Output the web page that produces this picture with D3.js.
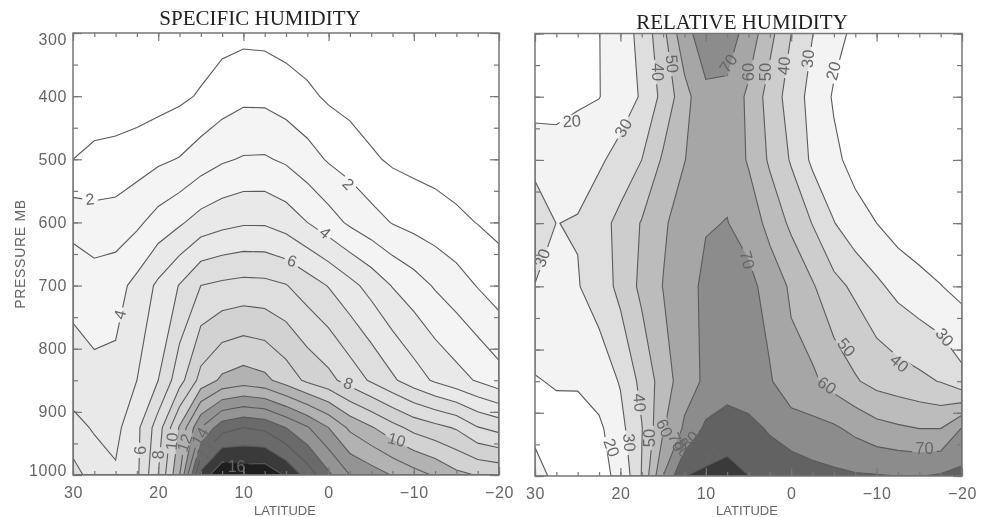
<!DOCTYPE html>
<html lang="en">
<head>
<meta charset="utf-8">
<title>Humidity sections</title>
<script src="https://cdn.jsdelivr.net/npm/d3@7"></script>
<style>
  html, body { margin: 0; background: #fff; }
  svg { display: block; filter: blur(0.4px); }
  .tick text, .axis-title { font-family: "Liberation Sans", sans-serif; fill: #666; }
  .tick line { stroke: #777; stroke-width: 1.2; }
  .title { font-family: "Liberation Serif", serif; fill: #222; font-size: 21px; text-anchor: middle; }
  .clabel { font-family: "Liberation Sans", sans-serif; fill: #666; text-anchor: middle; dominant-baseline: central; opacity: .99; }
</style>
</head>
<body>
<svg id="chart" width="987" height="517"></svg>
<script>
// grid of the analysis, north to south, top of the section to the surface
const lats = [30, 27.5, 25, 22.5, 20, 17.5, 15, 12.5, 10, 7.5, 5, 2.5, 0, -2.5, -5, -7.5, -10, -12.5, -15, -17.5, -20];
const pressures = [300, 400, 500, 600, 700, 850, 925, 1000];

// specific humidity (g/kg), one list per pressure level
const q300 = [.12, .15, .18, .2, .25, .3, .45, .65, .74, .7, .55, .4, .3, .25, .2, .18, .16, .14, .12, .1, .1];
const q400 = [.3, .3, .4, .45, .6, .8, 1.1, 1.5, 1.77, 1.75, 1.5, 1.2, .85, .62, .42, .35, .3, .27, .24, .22, .2];
const q500 = [1, 1.29, 1.35, 1.56, 1.82, 2.05, 2.5, 2.87, 3.08, 3.1, 2.85, 2.4, 1.9, 1.59, 1.15, .85, .7, .6, .5, .4, .33];
const q600 = [2.66, 2.37, 2.44, 2.8, 3.4, 3.86, 4.4, 4.7, 4.88, 4.88, 4.55, 4, 3.42, 2.83, 2.38, 1.95, 1.68, 1.46, 1.2, .97, .75];
const q700 = [3.69, 3.48, 3.63, 4.3, 5.2, 6.05, 7, 7.2, 7.32, 7.28, 7.05, 6.5, 5.95, 5.3, 4.65, 3.95, 3.45, 2.9, 2.45, 1.95, 1.49];
const q850 = [4.47, 4.25, 4.27, 5, 6, 7.6, 9.35, 10.2, 10.5, 10.25, 9.55, 8.8, 8.3, 7.57, 6.87, 6.16, 5.47, 4.85, 4.37, 3.9, 3.4];
const q925 = [5.32, 4.9, 4.72, 5.75, 7.5, 10.1, 13, 14.6, 15, 14.8, 14, 13.1, 12, 10.8, 10.1, 9.35, 8.7, 8.3, 7.9, 7.05, 6.67];
const q1000 = [6.38, 5.57, 5.13, 5.8, 8, 10.9, 16.3, 17.9, 17.6, 17.7, 16.9, 15.6, 14.2, 13, 12.5, 11.95, 11.4, 10.9, 10.25, 9.95, 9.8];

// relative humidity (%)
const rh300 = [14, 16, 18, 19.8, 25, 33, 47, 67.5, 74, 75, 66, 53, 40, 30.2, 23, 18, 15, 13, 12, 11, 10];
const rh400 = [15, 16, 18, 19.7, 25, 31, 43, 56, 68.5, 67.5, 58, 46, 35.5, 26.6, 19, 16, 14, 12, 11, 10, 9];
const rh500 = [27, 25, 27, 28.5, 33.5, 40, 51.5, 59.7, 66, 67, 59, 48.5, 39, 28, 22, 17, 15, 13, 12, 11, 9.5];
const rh600 = [36, 29.9, 30.5, 36, 43, 50.7, 58.5, 65, 69.2, 70.3, 66, 56.8, 48, 39.6, 30.4, 23.5, 20, 15.5, 13, 11.5, 10.5];
const rh700 = [29.7, 27, 29.5, 34, 43, 52.3, 60.3, 65, 72.8, 73.5, 73, 66, 58.5, 51, 43, 38, 32, 27, 23.5, 20.3, 17];
const rh850 = [19.3, 21, 20.8, 25, 30.7, 43, 54.5, 66, 71.5, 72.5, 73, 71, 63, 62, 56, 51, 46.7, 44.5, 42.3, 39.5, 33];
const rh925 = [18, 16, 17, 18, 27, 39.5, 59, 71.5, 82, 87.5, 83.2, 78.8, 75.5, 73, 71.5, 67.5, 63.5, 61.5, 60, 60, 70.6];
const rh1000 = [23, 18, 17, 18.5, 21.2, 40.5, 70, 89.8, 92, 91.8, 90.1, 87, 85, 83.5, 82, 81, 80.6, 80, 79.8, 81, 82.6];

const qLines = d3.range(1, 18);
const qBands = [2, 4, 6, 8, 10, 12, 14, 16, 17];
const qShades = ["#f4f4f4", "#e9e9e9", "#dedede", "#d2d2d2", "#b2b2b2", "#949494", "#6a6a6a", "#3a3a3a", "#1e1e1e"];
const rhLines = [20, 30, 40, 50, 60, 70, 80, 90];
const rhBands = [20, 30, 40, 50, 60, 70, 80, 90];
const rhShades = ["#f3f3f3", "#dedede", "#cdcdcd", "#bcbcbc", "#a6a6a6", "#8c8c8c", "#626262", "#3a3a3a"];

// contour labels: text, latitude, pressure, rotation
const qLabels = [
  ["2", 28, 563, -5], ["2", -2.3, 539, 45], ["4", .4, 616, 40], ["6", 4.3, 661, 20],
  ["4", 24.5, 746, -75], ["6", 22.1, 961, -90], ["8", 20, 968, -90], ["10", 18.4, 947, -85],
  ["12", 16.9, 949, -70], ["14", 15.1, 939, -60], ["8", -2.3, 855, 20], ["10", -8, 944, 15],
  ["14", 14.2, 963, -45], ["16", 10.8, 987, 0]
];
const rhLabels = [
  ["20", 25.7, 438, -3], ["30", 19.7, 449, -60], ["40", 15.6, 361, 90], ["50", 13.9, 348, 85],
  ["70", 7.4, 347, -55], ["60", 5.1, 361, -90], ["50", 3.1, 361, -90], ["40", .9, 351, -85],
  ["30", -1.9, 340, -85], ["20", -4.9, 359, -75], ["70", 5.1, 658, 75], ["30", 29.2, 655, -70],
  ["50", -6.5, 796, 50], ["60", -4.2, 856, 35], ["40", -12.7, 821, 40], ["30", -18, 780, 50],
  ["70", -15.6, 955, 0], ["90", 9.5, 969, -20], ["40", 17.7, 884, 85], ["30", 18.9, 947, 85],
  ["20", 21, 955, 70], ["50", 16.6, 940, -90], ["60", 14.8, 924, 65], ["70", 13.4, 946, 65],
  ["80", 11.9, 943, -45], ["80", 12.7, 956, 60]
];

const majorLat = [30, 20, 10, 0, -10, -20];
const minorLat = d3.range(30, -20.1, -2.5);
const majorP = [300, 400, 500, 600, 700, 800, 900, 1000];
const minorP = d3.range(300, 1001, 50);

const svg = d3.select("#chart");

function drawPanel(o) {
  const x = d3.scaleLinear().domain([30, -20]).range([o.left, o.right]);
  const y = d3.scaleLinear().domain([300, 1000]).range([o.top, o.bottom]);
  // contour coordinates are in grid cells, the levels are not evenly spaced
  const latAt = d3.scaleLinear().domain(d3.range(lats.length)).range(lats).clamp(true);
  const presAt = d3.scaleLinear().domain(d3.range(pressures.length)).range(pressures).clamp(true);
  const toPx = ([i, j]) => [x(latAt(i - .5)), y(presAt(j - .5))];

  const values = o.rows.flat();
  const contours = d3.contours().size([lats.length, pressures.length]);
  const path = d3.geoPath();
  const shape = level => {
    const c = contours.contour(values, level);
    return {
      type: "MultiPolygon",
      coordinates: c.coordinates.map(poly => poly.map(ring => ring.map(toPx)))
    };
  };

  const g = svg.append("g");
  const clipId = "clip-" + o.id, maskId = "gaps-" + o.id;
  const defs = g.append("defs");
  defs.append("clipPath").attr("id", clipId).append("rect")
    .attr("x", o.left).attr("y", o.top).attr("width", o.right - o.left).attr("height", o.bottom - o.top);

  const plot = g.append("g").attr("clip-path", "url(#" + clipId + ")");
  plot.append("rect")
    .attr("x", o.left).attr("y", o.top).attr("width", o.right - o.left).attr("height", o.bottom - o.top)
    .attr("fill", "#fff");
  plot.selectAll("path.band").data(o.bands).enter().append("path")
    .attr("class", "band")
    .attr("d", d => path(shape(d)))
    .attr("fill", (d, i) => o.shades[i]);

  // lines break around each label, the fill does not
  const mask = defs.append("mask").attr("id", maskId).attr("maskUnits", "userSpaceOnUse")
    .attr("x", 0).attr("y", 0).attr("width", 987).attr("height", 517);
  mask.append("rect").attr("width", 987).attr("height", 517).attr("fill", "#fff");
  mask.selectAll("rect.gap").data(o.labels).enter().append("rect")
    .attr("class", "gap")
    .attr("x", d => -d[0].length * 4.6 - 3).attr("y", -6)
    .attr("width", d => d[0].length * 9.2 + 6).attr("height", 12)
    .attr("fill", "#000")
    .attr("transform", d => "translate(" + x(d[1]) + "," + y(d[2]) + ") rotate(" + d[3] + ")");

  plot.append("g").attr("mask", "url(#" + maskId + ")")
    .selectAll("path").data(o.lines).enter().append("path")
    .attr("d", d => path(shape(d)))
    .attr("fill", "none")
    .attr("stroke", "#5a5a5a")
    .attr("stroke-width", 1.1);

  plot.selectAll("text").data(o.labels).enter().append("text")
    .attr("class", "clabel")
    .attr("font-size", o.labelSize)
    .attr("transform", d => "translate(" + x(d[1]) + "," + y(d[2]) + ") rotate(" + d[3] + ")")
    .text(d => d[0]);

  // ticks point inward on all four sides
  const ax = (sel, axis) => sel.call(axis).call(s => s.select(".domain").remove());
  const bottom = () => g.append("g").attr("transform", "translate(0," + o.bottom + ")");
  const top = () => g.append("g").attr("transform", "translate(0," + o.top + ")");
  const left = () => g.append("g").attr("transform", "translate(" + o.left + ",0)");
  const right = () => g.append("g").attr("transform", "translate(" + o.right + ",0)");

  ax(bottom(), d3.axisBottom(x).tickValues(minorLat).tickSize(-4).tickFormat(""));
  ax(top(), d3.axisTop(x).tickValues(minorLat).tickSize(-4).tickFormat(""));
  ax(left(), d3.axisLeft(y).tickValues(minorP).tickSize(-5).tickFormat(""));
  ax(right(), d3.axisRight(y).tickValues(minorP).tickSize(-5).tickFormat(""));
  ax(top(), d3.axisTop(x).tickValues(majorLat).tickSize(-8).tickFormat(""));
  ax(right(), d3.axisRight(y).tickValues(majorP).tickSize(-9).tickFormat(""));

  const xAxis = bottom();
  ax(xAxis, d3.axisBottom(x).tickValues(majorLat).tickSize(-8).tickPadding(12));
  xAxis.selectAll("text").attr("font-size", 16).attr("letter-spacing", .6);

  const yAxis = left();
  ax(yAxis, d3.axisLeft(y).tickValues(majorP).tickSize(-9).tickPadding(6)
    .tickFormat(o.yLabels ? d3.format("d") : ""));
  yAxis.selectAll("text").attr("font-size", 16).attr("letter-spacing", .6)
    .attr("dy", d => d === 300 ? "0.72em" : d === 1000 ? "0em" : "0.32em");

  g.append("rect")
    .attr("x", o.left).attr("y", o.top).attr("width", o.right - o.left).attr("height", o.bottom - o.top)
    .attr("fill", "none").attr("stroke", "#777").attr("stroke-width", 1.5);

  g.append("text").attr("class", "title")
    .attr("x", o.titleX).attr("y", o.titleY).text(o.title);
  g.append("text").attr("class", "axis-title")
    .attr("x", o.xTitleX).attr("y", 515).attr("text-anchor", "middle").attr("font-size", 13)
    .text("LATITUDE");
}

drawPanel({
  id: "q", left: 73, right: 499, top: 33, bottom: 475,
  rows: [q300, q400, q500, q600, q700, q850, q925, q1000],
  bands: qBands, shades: qShades, lines: qLines, labels: qLabels, labelSize: 16,
  yLabels: true, title: "SPECIFIC HUMIDITY", titleX: 260, titleY: 25, xTitleX: 285
});
drawPanel({
  id: "rh", left: 535, right: 962, top: 33.5, bottom: 476,
  rows: [rh300, rh400, rh500, rh600, rh700, rh850, rh925, rh1000],
  bands: rhBands, shades: rhShades, lines: rhLines, labels: rhLabels, labelSize: 16.5,
  yLabels: false, title: "RELATIVE HUMIDITY", titleX: 742, titleY: 29, xTitleX: 747
});

svg.append("text").attr("class", "axis-title")
  .attr("transform", "translate(25,254) rotate(-90)")
  .attr("text-anchor", "middle").attr("font-size", 14).attr("letter-spacing", .7)
  .text("PRESSURE  MB");
</script>
</body>
</html>
